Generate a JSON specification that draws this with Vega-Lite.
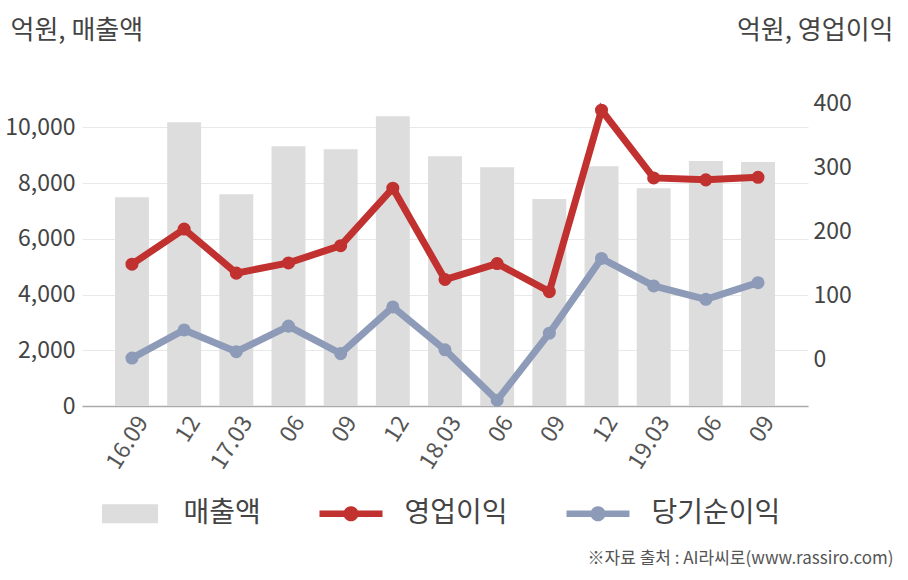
{
  "$schema": "https://vega.github.io/schema/vega-lite/v6.json",
  "width": 726,
  "height": 306,
  "autosize": {"type": "none"},
  "padding": {"left": 82, "top": 100, "right": 100, "bottom": 174},
  "background": "white",
  "config": {
    "font": "Noto Sans CJK KR",
    "view": {"stroke": null},
    "axis": {"labelFont": "Noto Sans CJK KR", "titleFont": "Noto Sans CJK KR"},
    "legend": {"labelFont": "Noto Sans CJK KR"}
  },
  "data": {
    "values": [
      {"q": "2016.09", "매출액": 7490, "영업이익": 149, "당기순이익": 2},
      {"q": "2016.12", "매출액": 10180, "영업이익": 204, "당기순이익": 46},
      {"q": "2017.03", "매출액": 7600, "영업이익": 135, "당기순이익": 12},
      {"q": "2017.06", "매출액": 9320, "영업이익": 151, "당기순이익": 52},
      {"q": "2017.09", "매출액": 9210, "영업이익": 178, "당기순이익": 9},
      {"q": "2017.12", "매출액": 10400, "영업이익": 268, "당기순이익": 82},
      {"q": "2018.03", "매출액": 8960, "영업이익": 125, "당기순이익": 15},
      {"q": "2018.06", "매출액": 8565, "영업이익": 150, "당기순이익": -64},
      {"q": "2018.09", "매출액": 7430, "영업이익": 106, "당기순이익": 41},
      {"q": "2018.12", "매출액": 8600, "영업이익": 390, "당기순이익": 158},
      {"q": "2019.03", "매출액": 7810, "영업이익": 284, "당기순이익": 115},
      {"q": "2019.06", "매출액": 8790, "영업이익": 281, "당기순이익": 94},
      {"q": "2019.09", "매출액": 8755, "영업이익": 285, "당기순이익": 120}
    ]
  },
  "encoding": {
    "x": {
      "field": "q",
      "type": "ordinal",
      "sort": null,
      "scale": {"paddingInner": 0.35, "paddingOuter": 0.633},
      "axis": {
        "title": "※자료 출처 : AI라씨로(www.rassiro.com)",
        "titleX": 811,
        "titleY": 152,
        "titleAlign": "right",
        "titleBaseline": "middle",
        "titleFontSize": 17,
        "titleFontWeight": "normal",
        "titleColor": "#555555",
        "labelExpr": "datum.value == '2016.09' || slice(datum.value, 5) == '03' ? slice(datum.value, 2) : slice(datum.value, 5)",
        "labelAngle": -58,
        "labelAlign": "right",
        "labelBaseline": "middle",
        "labelFontSize": 23,
        "labelColor": "#555555",
        "labelPadding": 12,
        "labelOffset": 11,
        "ticks": false,
        "domainColor": "#AAAAAA",
        "domainWidth": 1.5
      }
    },
    "color": {
      "field": "series",
      "type": "nominal",
      "scale": {
        "domain": ["매출액", "영업이익", "당기순이익"],
        "range": ["#DDDDDD", "#C0312F", "#8D9BB8"]
      },
      "legend": {
        "orient": "none",
        "legendX": 16.5,
        "legendY": 382,
        "direction": "horizontal",
        "title": null,
        "padding": 0,
        "symbolSize": 3969,
        "labelFontSize": 28,
        "labelColor": "#444444",
        "labelOffset": 22,
        "columnPadding": 58,
        "encode": {
          "symbols": {
            "update": {
              "shape": {"signal": "datum.value === '매출액' ? 'M-0.89,-0.3H0.89V0.3H-0.89Z' : 'M-1,-0.1H1V0.1H-1Z M-0.24,0A0.24,0.24 0 1,1 0.24,0A0.24,0.24 0 1,1 -0.24,0Z'"},
              "fill": {"scale": "color", "field": "value"},
              "stroke": {"value": "transparent"},
              "strokeWidth": {"value": 0},
              "size": {"value": 3969},
              "opacity": {"value": 1}
            }
          }
        }
      }
    }
  },
  "layer": [
    {
      "transform": [{"fold": ["매출액"], "as": ["series", "value"]}],
      "mark": {"type": "bar"},
      "encoding": {
        "y": {
          "field": "value",
          "type": "quantitative",
          "scale": {"domain": [0, 10980], "nice": false},
          "axis": {
            "orient": "left",
            "title": "억원, 매출액",
            "titleAngle": 0,
            "titleX": -72,
            "titleY": -70,
            "titleAlign": "left",
            "titleBaseline": "middle",
            "titleFontSize": 26,
            "titleFontWeight": "normal",
            "titleColor": "#444444",
            "values": [0, 2000, 4000, 6000, 8000, 10000],
            "format": ",d",
            "grid": true,
            "gridColor": "#E8E8E8",
            "domain": false,
            "ticks": false,
            "labelFontSize": 23,
            "labelColor": "#444444",
            "labelPadding": 7
          }
        }
      }
    },
    {
      "transform": [{"fold": ["영업이익", "당기순이익"], "as": ["series", "value"]}],
      "mark": {"type": "line", "strokeWidth": 7, "point": {"filled": true, "size": 170}},
      "encoding": {
        "y": {
          "field": "value",
          "type": "quantitative",
          "scale": {"domain": [-73, 406], "nice": false, "zero": false},
          "axis": {
            "orient": "right",
            "title": "억원, 영업이익",
            "titleAngle": 0,
            "titleX": 85,
            "titleY": -70,
            "titleAlign": "right",
            "titleBaseline": "middle",
            "titleFontSize": 26,
            "titleFontWeight": "normal",
            "titleColor": "#444444",
            "values": [0, 100, 200, 300, 400],
            "grid": false,
            "domain": false,
            "ticks": false,
            "labelFontSize": 23,
            "labelColor": "#444444",
            "labelPadding": 5
          }
        }
      }
    }
  ],
  "resolve": {"scale": {"y": "independent"}}
}
